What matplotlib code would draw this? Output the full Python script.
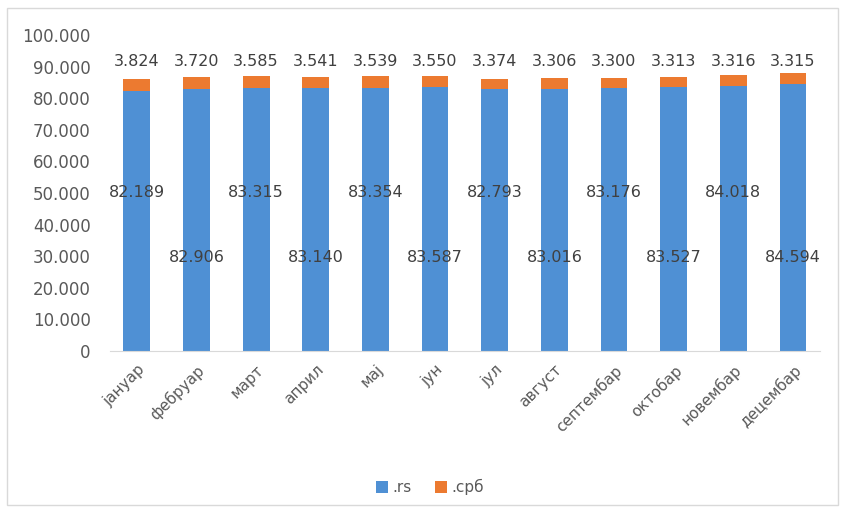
import matplotlib

matplotlib.use("Agg")
import matplotlib.pyplot as plt
from matplotlib.patches import Rectangle
from matplotlib.ticker import FuncFormatter

months = ["јануар", "фебруар", "март", "април", "мај", "јун",
          "јул", "август", "септембар", "октобар", "новембар", "децембар"]
rs_values = [82189, 82906, 83315, 83140, 83354, 83587,
             82793, 83016, 83176, 83527, 84018, 84594]
srb_values = [3824, 3720, 3585, 3541, 3539, 3550,
              3374, 3306, 3300, 3313, 3316, 3315]

BLUE = "#4f90d4"
ORANGE = "#ec7a30"
GREY = "#595959"


def thousands(v, _pos=None):
    return f"{int(round(v)):,}".replace(",", ".")


fig = plt.figure(figsize=(8.46, 5.16), dpi=100)
fig.patches.append(Rectangle((7 / 846, 1 - 505 / 516), 831 / 846, 497 / 516,
                             transform=fig.transFigure, fill=False,
                             edgecolor="#d9d9d9", linewidth=1))
ax = fig.add_axes([0.13, 0.32, 0.839, 0.612])

x = list(range(len(months)))
ax.bar(x, rs_values, width=0.45, color=BLUE, label=".rs")
ax.bar(x, srb_values, width=0.45, bottom=rs_values, color=ORANGE, label=".срб")

# inner labels alternate between two heights in the original
for i, v in enumerate(rs_values):
    y = 50000 if i % 2 == 0 else 29500
    ax.text(i, y, thousands(v), ha="center", va="center", fontsize=11.5, color="#404040")
for i, v in enumerate(srb_values):
    ax.text(i, 91500, thousands(v), ha="center", va="center", fontsize=11.5, color="#404040")

ax.set_ylim(0, 100000)
ax.set_xlim(-0.45, len(months) - 0.55)
ax.set_yticks(range(0, 100001, 10000))
ax.yaxis.set_major_formatter(FuncFormatter(thousands))
ax.set_xticks(x)
ax.set_xticklabels(months, rotation=45, ha="right", rotation_mode="anchor")
ax.tick_params(axis="y", length=0, labelsize=12, colors=GREY, pad=14)
ax.tick_params(axis="x", length=0, labelsize=11, colors=GREY, pad=8)

for side in ("top", "right", "left"):
    ax.spines[side].set_visible(False)
ax.spines["bottom"].set_color("#d9d9d9")

ax.legend(loc="center", bbox_to_anchor=(430 / 846, 1 - 487 / 516),
          bbox_transform=fig.transFigure, ncol=2, frameon=False,
          fontsize=11, labelcolor=GREY, handlelength=0.8, handleheight=0.8,
          columnspacing=1.5, handletextpad=0.3)

fig.savefig("out.png", dpi=100)
